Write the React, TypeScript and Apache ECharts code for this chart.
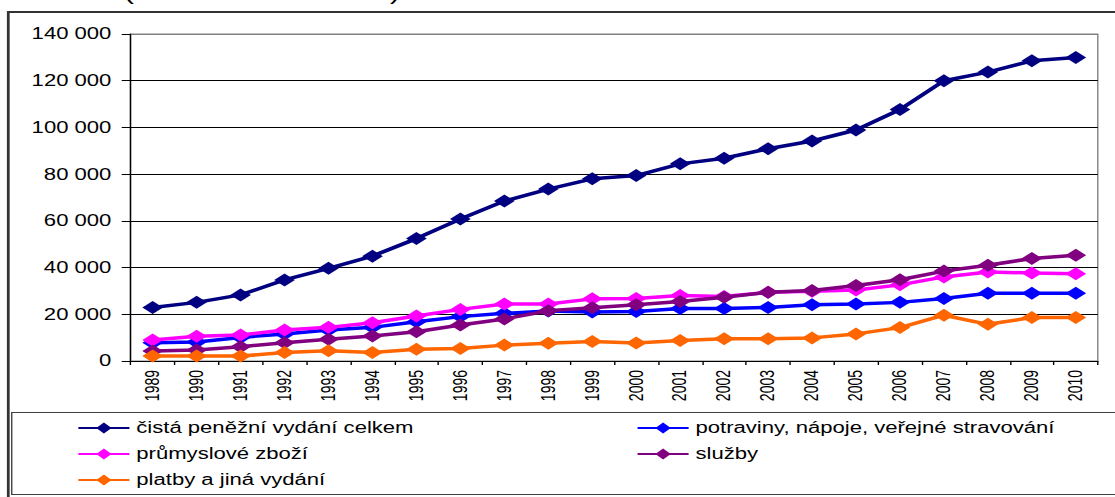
import React, { useEffect, useRef } from "react";
import * as echarts from "echarts";

const years = ["1989","1990","1991","1992","1993","1994","1995","1996","1997","1998","1999","2000","2001","2002","2003","2004","2005","2006","2007","2008","2009","2010"];
const seriesNames = [
  "čistá peněžní vydání celkem",
  "potraviny, nápoje, veřejné stravování",
  "průmyslové zboží",
  "služby",
  "platby a jiná vydání",
];
const seriesColors = ["#000080", "#0000FF", "#FF00FF", "#800080", "#FF6600"];
const totalSpending = [22900, 25100, 28300, 34700, 39700, 44900, 52400, 60800, 68500, 73600, 78000, 79400, 84400, 86800, 90900, 94200, 98900, 107700, 120000, 123700, 128500, 129900];
const foodSpending = [7800, 8100, 10100, 11600, 13300, 14400, 16800, 19000, 20400, 21400, 21000, 21200, 22500, 22500, 22900, 24100, 24400, 25100, 26800, 29000, 29000, 29000];
const goodsSpending = [9000, 10600, 11100, 13300, 14400, 16400, 19300, 22100, 24400, 24400, 26600, 26800, 28000, 27600, 29400, 29900, 30400, 32600, 36000, 38100, 37700, 37400];
const servicesSpending = [4300, 4700, 6100, 7800, 9300, 10700, 12500, 15400, 18000, 21500, 22800, 24100, 25500, 27300, 29400, 30200, 32300, 34800, 38500, 41000, 43900, 45300];
const paymentsSpending = [2100, 2100, 2100, 3600, 4400, 3600, 5000, 5400, 6800, 7600, 8400, 7700, 8800, 9500, 9500, 9900, 11600, 14300, 19600, 15700, 18600, 18600];
const yTicks = { min: 0, max: 140000, interval: 20000 };
const titleText = "(na osobu a rok v Kč)";

const STRETCH = 1.38;
const FONT = "'Liberation Sans', Arial, sans-serif";

export default function App() {
  const ref = useRef<HTMLDivElement>(null);
  useEffect(() => {
    if (!ref.current) return;
    const chart = echarts.init(ref.current, null, { renderer: "svg" });
    const data = [totalSpending, foodSpending, goodsSpending, servicesSpending, paymentsSpending];
    const splitColors = ["#000", "#000", "#000", "#000", "#000", "#000", "#000", "#808080"];
    const legendCommon = {
      orient: "vertical",
      top: 420,
      padding: 0,
      itemWidth: 37,
      itemHeight: 14,
      itemGap: 10,
      textStyle: { fontFamily: FONT, fontSize: 16, color: "#000" },
      selectedMode: false,
    };
    chart.setOption({
      animation: false,
      backgroundColor: "#fff",
      graphic: [
        {
          type: "text",
          left: 90,
          top: -18,
          style: { text: titleText, font: `21px ${FONT}`, fill: "#000" },
        },
        {
          type: "rect",
          shape: { x: 6, y: 12, width: 900, height: 600 },
          style: { fill: "none", stroke: "#333", lineWidth: 2 },
          silent: true,
        },
        {
          type: "rect",
          shape: { x: 8.5, y: 412.5, width: 900, height: 82 },
          style: { fill: "none", stroke: "#404040", lineWidth: 1 },
          silent: true,
        },
      ],
      grid: {
        left: 94.7,
        top: 34,
        width: 700.8,
        height: 327,
        show: true,
        borderColor: "#808080",
        borderWidth: 1,
        backgroundColor: "transparent",
      },
      legend: [
        { ...legendCommon, left: 55.8, data: [seriesNames[0], seriesNames[2], seriesNames[4]] },
        { ...legendCommon, left: 461, data: [seriesNames[1], seriesNames[3]] },
      ],
      xAxis: {
        type: "category",
        data: years,
        boundaryGap: true,
        axisLine: { lineStyle: { color: "#000", width: 1 } },
        axisTick: { show: true, length: 4, lineStyle: { color: "#000" } },
        axisLabel: {
          interval: 0,
          rotate: 90,
          margin: 9,
          fontFamily: FONT,
          fontSize: 14,
          color: "#000",
        },
      },
      yAxis: {
        type: "value",
        min: yTicks.min,
        max: yTicks.max,
        interval: yTicks.interval,
        axisLine: { show: true, lineStyle: { color: "#000", width: 1 } },
        axisTick: { show: true, length: 6.5, lineStyle: { color: "#000" } },
        splitLine: { show: true, lineStyle: { color: splitColors, width: 1 } },
        axisLabel: {
          margin: 14,
          fontFamily: FONT,
          fontSize: 16,
          color: "#000",
          formatter: (v: number) => (v === 0 ? "0" : `${Math.round(v / 1000)} 000`),
        },
      },
      series: seriesNames.map((name, i) => ({
        name,
        type: "line",
        data: data[i],
        symbol: "diamond",
        symbolSize: [15, 13],
        color: seriesColors[i],
        lineStyle: { color: seriesColors[i], width: 3.5 },
        itemStyle: { color: seriesColors[i] },
        z: 2 + i,
      })),
    });
    return () => chart.dispose();
  }, []);
  return (
    <div
      style={{
        position: "fixed",
        left: 0,
        top: 0,
        width: 1115,
        height: 497,
        overflow: "hidden",
        background: "#fff",
      }}
    >
      <div
        ref={ref}
        style={{
          width: 1115 / STRETCH,
          height: 497,
          transform: `scaleX(${STRETCH})`,
          transformOrigin: "0 0",
        }}
      />
    </div>
  );
}
